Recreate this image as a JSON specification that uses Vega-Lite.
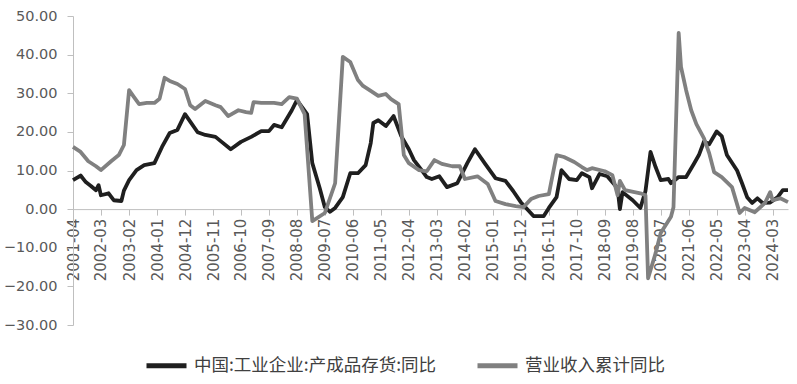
{
  "$schema": "https://vega.github.io/schema/vega-lite/v6.json",
  "width": 715,
  "height": 309,
  "autosize": {"type": "none"},
  "padding": {"left": 73, "top": 16, "right": 9, "bottom": 59},
  "background": "white",
  "config": {"view": {"stroke": null}, "font": "DejaVu Sans"},
  "data": {"values": [
    {"date": "2001-04", "series": "中国:工业企业:产成品存货:同比", "value": 7.5},
    {"date": "2001-07", "series": "中国:工业企业:产成品存货:同比", "value": 8.7},
    {"date": "2001-09", "series": "中国:工业企业:产成品存货:同比", "value": 7.0},
    {"date": "2001-11", "series": "中国:工业企业:产成品存货:同比", "value": 6.0},
    {"date": "2002-01", "series": "中国:工业企业:产成品存货:同比", "value": 4.9},
    {"date": "2002-02", "series": "中国:工业企业:产成品存货:同比", "value": 6.2},
    {"date": "2002-03", "series": "中国:工业企业:产成品存货:同比", "value": 3.6},
    {"date": "2002-06", "series": "中国:工业企业:产成品存货:同比", "value": 4.1},
    {"date": "2002-08", "series": "中国:工业企业:产成品存货:同比", "value": 2.3},
    {"date": "2002-11", "series": "中国:工业企业:产成品存货:同比", "value": 2.1},
    {"date": "2002-12", "series": "中国:工业企业:产成品存货:同比", "value": 4.8},
    {"date": "2003-02", "series": "中国:工业企业:产成品存货:同比", "value": 7.5},
    {"date": "2003-05", "series": "中国:工业企业:产成品存货:同比", "value": 10.1},
    {"date": "2003-08", "series": "中国:工业企业:产成品存货:同比", "value": 11.4},
    {"date": "2003-12", "series": "中国:工业企业:产成品存货:同比", "value": 11.9},
    {"date": "2004-03", "series": "中国:工业企业:产成品存货:同比", "value": 16.1},
    {"date": "2004-06", "series": "中国:工业企业:产成品存货:同比", "value": 19.7},
    {"date": "2004-09", "series": "中国:工业企业:产成品存货:同比", "value": 20.5},
    {"date": "2004-12", "series": "中国:工业企业:产成品存货:同比", "value": 24.6},
    {"date": "2005-05", "series": "中国:工业企业:产成品存货:同比", "value": 19.9},
    {"date": "2005-08", "series": "中国:工业企业:产成品存货:同比", "value": 19.2},
    {"date": "2005-12", "series": "中国:工业企业:产成品存货:同比", "value": 18.7},
    {"date": "2006-02", "series": "中国:工业企业:产成品存货:同比", "value": 17.6},
    {"date": "2006-06", "series": "中国:工业企业:产成品存货:同比", "value": 15.5},
    {"date": "2006-10", "series": "中国:工业企业:产成品存货:同比", "value": 17.4},
    {"date": "2007-02", "series": "中国:工业企业:产成品存货:同比", "value": 18.7},
    {"date": "2007-06", "series": "中国:工业企业:产成品存货:同比", "value": 20.2},
    {"date": "2007-09", "series": "中国:工业企业:产成品存货:同比", "value": 20.2},
    {"date": "2007-11", "series": "中国:工业企业:产成品存货:同比", "value": 21.8},
    {"date": "2008-02", "series": "中国:工业企业:产成品存货:同比", "value": 21.2},
    {"date": "2008-06", "series": "中国:工业企业:产成品存货:同比", "value": 25.6},
    {"date": "2008-08", "series": "中国:工业企业:产成品存货:同比", "value": 28.2},
    {"date": "2008-12", "series": "中国:工业企业:产成品存货:同比", "value": 24.6},
    {"date": "2009-02", "series": "中国:工业企业:产成品存货:同比", "value": 11.9},
    {"date": "2009-05", "series": "中国:工业企业:产成品存货:同比", "value": 5.4},
    {"date": "2009-07", "series": "中国:工业企业:产成品存货:同比", "value": 0.5},
    {"date": "2009-09", "series": "中国:工业企业:产成品存货:同比", "value": -0.7},
    {"date": "2009-11", "series": "中国:工业企业:产成品存货:同比", "value": 0.3},
    {"date": "2010-02", "series": "中国:工业企业:产成品存货:同比", "value": 3.1},
    {"date": "2010-05", "series": "中国:工业企业:产成品存货:同比", "value": 9.3},
    {"date": "2010-08", "series": "中国:工业企业:产成品存货:同比", "value": 9.3},
    {"date": "2010-11", "series": "中国:工业企业:产成品存货:同比", "value": 11.4},
    {"date": "2011-01", "series": "中国:工业企业:产成品存货:同比", "value": 17.1},
    {"date": "2011-02", "series": "中国:工业企业:产成品存货:同比", "value": 22.3},
    {"date": "2011-04", "series": "中国:工业企业:产成品存货:同比", "value": 23.0},
    {"date": "2011-07", "series": "中国:工业企业:产成品存货:同比", "value": 21.5},
    {"date": "2011-10", "series": "中国:工业企业:产成品存货:同比", "value": 24.1},
    {"date": "2012-01", "series": "中国:工业企业:产成品存货:同比", "value": 18.9},
    {"date": "2012-04", "series": "中国:工业企业:产成品存货:同比", "value": 15.5},
    {"date": "2012-06", "series": "中国:工业企业:产成品存货:同比", "value": 12.7},
    {"date": "2012-09", "series": "中国:工业企业:产成品存货:同比", "value": 10.1},
    {"date": "2012-11", "series": "中国:工业企业:产成品存货:同比", "value": 8.3},
    {"date": "2013-01", "series": "中国:工业企业:产成品存货:同比", "value": 7.8},
    {"date": "2013-04", "series": "中国:工业企业:产成品存货:同比", "value": 8.5},
    {"date": "2013-07", "series": "中国:工业企业:产成品存货:同比", "value": 5.7},
    {"date": "2013-11", "series": "中国:工业企业:产成品存货:同比", "value": 6.7},
    {"date": "2014-03", "series": "中国:工业企业:产成品存货:同比", "value": 11.9},
    {"date": "2014-06", "series": "中国:工业企业:产成品存货:同比", "value": 15.5},
    {"date": "2014-10", "series": "中国:工业企业:产成品存货:同比", "value": 11.7},
    {"date": "2015-02", "series": "中国:工业企业:产成品存货:同比", "value": 8.0},
    {"date": "2015-06", "series": "中国:工业企业:产成品存货:同比", "value": 7.3},
    {"date": "2015-09", "series": "中国:工业企业:产成品存货:同比", "value": 4.7},
    {"date": "2015-12", "series": "中国:工业企业:产成品存货:同比", "value": 1.8},
    {"date": "2016-05", "series": "中国:工业企业:产成品存货:同比", "value": -1.8},
    {"date": "2016-09", "series": "中国:工业企业:产成品存货:同比", "value": -1.8},
    {"date": "2016-11", "series": "中国:工业企业:产成品存货:同比", "value": 0.3},
    {"date": "2017-02", "series": "中国:工业企业:产成品存货:同比", "value": 3.1},
    {"date": "2017-04", "series": "中国:工业企业:产成品存货:同比", "value": 10.1},
    {"date": "2017-07", "series": "中国:工业企业:产成品存货:同比", "value": 7.8},
    {"date": "2017-10", "series": "中国:工业企业:产成品存货:同比", "value": 7.5},
    {"date": "2017-12", "series": "中国:工业企业:产成品存货:同比", "value": 9.3},
    {"date": "2018-03", "series": "中国:工业企业:产成品存货:同比", "value": 8.3},
    {"date": "2018-04", "series": "中国:工业企业:产成品存货:同比", "value": 5.4},
    {"date": "2018-07", "series": "中国:工业企业:产成品存货:同比", "value": 9.1},
    {"date": "2018-10", "series": "中国:工业企业:产成品存货:同比", "value": 8.5},
    {"date": "2019-02", "series": "中国:工业企业:产成品存货:同比", "value": 5.4},
    {"date": "2019-03", "series": "中国:工业企业:产成品存货:同比", "value": 0.0},
    {"date": "2019-04", "series": "中国:工业企业:产成品存货:同比", "value": 4.4},
    {"date": "2019-08", "series": "中国:工业企业:产成品存货:同比", "value": 2.3},
    {"date": "2019-11", "series": "中国:工业企业:产成品存货:同比", "value": 0.3},
    {"date": "2020-01", "series": "中国:工业企业:产成品存货:同比", "value": 4.7},
    {"date": "2020-03", "series": "中国:工业企业:产成品存货:同比", "value": 14.8},
    {"date": "2020-05", "series": "中国:工业企业:产成品存货:同比", "value": 10.9},
    {"date": "2020-07", "series": "中国:工业企业:产成品存货:同比", "value": 7.5},
    {"date": "2020-10", "series": "中国:工业企业:产成品存货:同比", "value": 7.8},
    {"date": "2020-11", "series": "中国:工业企业:产成品存货:同比", "value": 6.7},
    {"date": "2021-02", "series": "中国:工业企业:产成品存货:同比", "value": 8.3},
    {"date": "2021-05", "series": "中国:工业企业:产成品存货:同比", "value": 8.3},
    {"date": "2021-08", "series": "中国:工业企业:产成品存货:同比", "value": 11.7},
    {"date": "2021-10", "series": "中国:工业企业:产成品存货:同比", "value": 14.0},
    {"date": "2021-12", "series": "中国:工业企业:产成品存货:同比", "value": 17.5},
    {"date": "2022-02", "series": "中国:工业企业:产成品存货:同比", "value": 16.8},
    {"date": "2022-05", "series": "中国:工业企业:产成品存货:同比", "value": 20.1},
    {"date": "2022-07", "series": "中国:工业企业:产成品存货:同比", "value": 18.9},
    {"date": "2022-09", "series": "中国:工业企业:产成品存货:同比", "value": 14.0},
    {"date": "2022-11", "series": "中国:工业企业:产成品存货:同比", "value": 12.0},
    {"date": "2023-01", "series": "中国:工业企业:产成品存货:同比", "value": 10.0},
    {"date": "2023-03", "series": "中国:工业企业:产成品存货:同比", "value": 6.7},
    {"date": "2023-05", "series": "中国:工业企业:产成品存货:同比", "value": 3.1},
    {"date": "2023-07", "series": "中国:工业企业:产成品存货:同比", "value": 1.6},
    {"date": "2023-09", "series": "中国:工业企业:产成品存货:同比", "value": 2.8},
    {"date": "2023-11", "series": "中国:工业企业:产成品存货:同比", "value": 1.6},
    {"date": "2024-02", "series": "中国:工业企业:产成品存货:同比", "value": 1.7},
    {"date": "2024-05", "series": "中国:工业企业:产成品存货:同比", "value": 3.1},
    {"date": "2024-07", "series": "中国:工业企业:产成品存货:同比", "value": 4.9},
    {"date": "2024-09", "series": "中国:工业企业:产成品存货:同比", "value": 4.9},
    {"date": "2001-04", "series": "营业收入累计同比", "value": 16.1},
    {"date": "2001-07", "series": "营业收入累计同比", "value": 14.8},
    {"date": "2001-10", "series": "营业收入累计同比", "value": 12.4},
    {"date": "2002-01", "series": "营业收入累计同比", "value": 11.1},
    {"date": "2002-03", "series": "营业收入累计同比", "value": 10.1},
    {"date": "2002-07", "series": "营业收入累计同比", "value": 12.4},
    {"date": "2002-10", "series": "营业收入累计同比", "value": 14.0},
    {"date": "2002-12", "series": "营业收入累计同比", "value": 16.6},
    {"date": "2003-02", "series": "营业收入累计同比", "value": 30.8},
    {"date": "2003-04", "series": "营业收入累计同比", "value": 29.0},
    {"date": "2003-06", "series": "营业收入累计同比", "value": 27.2},
    {"date": "2003-09", "series": "营业收入累计同比", "value": 27.5},
    {"date": "2003-12", "series": "营业收入累计同比", "value": 27.5},
    {"date": "2004-02", "series": "营业收入累计同比", "value": 28.6},
    {"date": "2004-04", "series": "营业收入累计同比", "value": 34.0},
    {"date": "2004-06", "series": "营业收入累计同比", "value": 33.2},
    {"date": "2004-09", "series": "营业收入累计同比", "value": 32.4},
    {"date": "2004-12", "series": "营业收入累计同比", "value": 31.1},
    {"date": "2005-02", "series": "营业收入累计同比", "value": 26.9},
    {"date": "2005-04", "series": "营业收入累计同比", "value": 25.9},
    {"date": "2005-08", "series": "营业收入累计同比", "value": 28.0},
    {"date": "2005-12", "series": "营业收入累计同比", "value": 26.9},
    {"date": "2006-02", "series": "营业收入累计同比", "value": 26.4},
    {"date": "2006-05", "series": "营业收入累计同比", "value": 24.1},
    {"date": "2006-09", "series": "营业收入累计同比", "value": 25.6},
    {"date": "2006-12", "series": "营业收入累计同比", "value": 25.1},
    {"date": "2007-02", "series": "营业收入累计同比", "value": 24.9},
    {"date": "2007-03", "series": "营业收入累计同比", "value": 27.7},
    {"date": "2007-06", "series": "营业收入累计同比", "value": 27.5},
    {"date": "2007-11", "series": "营业收入累计同比", "value": 27.5},
    {"date": "2008-02", "series": "营业收入累计同比", "value": 27.2},
    {"date": "2008-05", "series": "营业收入累计同比", "value": 29.0},
    {"date": "2008-08", "series": "营业收入累计同比", "value": 28.6},
    {"date": "2008-11", "series": "营业收入累计同比", "value": 24.6},
    {"date": "2009-02", "series": "营业收入累计同比", "value": -3.1},
    {"date": "2009-07", "series": "营业收入累计同比", "value": -1.0},
    {"date": "2009-11", "series": "营业收入累计同比", "value": 6.7},
    {"date": "2010-02", "series": "营业收入累计同比", "value": 39.4},
    {"date": "2010-05", "series": "营业收入累计同比", "value": 38.1},
    {"date": "2010-08", "series": "营业收入累计同比", "value": 33.4},
    {"date": "2010-10", "series": "营业收入累计同比", "value": 31.9},
    {"date": "2011-01", "series": "营业收入累计同比", "value": 30.6},
    {"date": "2011-04", "series": "营业收入累计同比", "value": 29.3},
    {"date": "2011-07", "series": "营业收入累计同比", "value": 29.8},
    {"date": "2011-09", "series": "营业收入累计同比", "value": 28.5},
    {"date": "2011-12", "series": "营业收入累计同比", "value": 27.2},
    {"date": "2012-02", "series": "营业收入累计同比", "value": 14.0},
    {"date": "2012-04", "series": "营业收入累计同比", "value": 11.9},
    {"date": "2012-08", "series": "营业收入累计同比", "value": 10.1},
    {"date": "2012-11", "series": "营业收入累计同比", "value": 9.8},
    {"date": "2013-02", "series": "营业收入累计同比", "value": 12.7},
    {"date": "2013-05", "series": "营业收入累计同比", "value": 11.7},
    {"date": "2013-09", "series": "营业收入累计同比", "value": 11.1},
    {"date": "2013-12", "series": "营业收入累计同比", "value": 11.1},
    {"date": "2014-02", "series": "营业收入累计同比", "value": 7.8},
    {"date": "2014-07", "series": "营业收入累计同比", "value": 8.5},
    {"date": "2014-11", "series": "营业收入累计同比", "value": 6.5},
    {"date": "2015-02", "series": "营业收入累计同比", "value": 2.1},
    {"date": "2015-06", "series": "营业收入累计同比", "value": 1.3},
    {"date": "2015-10", "series": "营业收入累计同比", "value": 0.8},
    {"date": "2016-01", "series": "营业收入累计同比", "value": 0.5},
    {"date": "2016-04", "series": "营业收入累计同比", "value": 2.6},
    {"date": "2016-07", "series": "营业收入累计同比", "value": 3.4},
    {"date": "2016-11", "series": "营业收入累计同比", "value": 3.9},
    {"date": "2017-02", "series": "营业收入累计同比", "value": 14.0},
    {"date": "2017-05", "series": "营业收入累计同比", "value": 13.5},
    {"date": "2017-09", "series": "营业收入累计同比", "value": 12.2},
    {"date": "2017-12", "series": "营业收入累计同比", "value": 10.9},
    {"date": "2018-02", "series": "营业收入累计同比", "value": 10.1},
    {"date": "2018-04", "series": "营业收入累计同比", "value": 10.6},
    {"date": "2018-09", "series": "营业收入累计同比", "value": 9.8},
    {"date": "2018-12", "series": "营业收入累计同比", "value": 8.8},
    {"date": "2019-02", "series": "营业收入累计同比", "value": 3.6},
    {"date": "2019-03", "series": "营业收入累计同比", "value": 7.3},
    {"date": "2019-05", "series": "营业收入累计同比", "value": 4.9},
    {"date": "2019-11", "series": "营业收入累计同比", "value": 4.1},
    {"date": "2020-01", "series": "营业收入累计同比", "value": 3.6},
    {"date": "2020-02", "series": "营业收入累计同比", "value": -17.9},
    {"date": "2020-05", "series": "营业收入累计同比", "value": -11.4},
    {"date": "2020-07", "series": "营业收入累计同比", "value": -6.2},
    {"date": "2020-11", "series": "营业收入累计同比", "value": -2.0},
    {"date": "2020-12", "series": "营业收入累计同比", "value": 0.5},
    {"date": "2021-02", "series": "营业收入累计同比", "value": 45.6},
    {"date": "2021-03", "series": "营业收入累计同比", "value": 36.8},
    {"date": "2021-05", "series": "营业收入累计同比", "value": 30.8},
    {"date": "2021-07", "series": "营业收入累计同比", "value": 25.6},
    {"date": "2021-09", "series": "营业收入累计同比", "value": 22.0},
    {"date": "2021-12", "series": "营业收入累计同比", "value": 18.3},
    {"date": "2022-02", "series": "营业收入累计同比", "value": 14.5},
    {"date": "2022-04", "series": "营业收入累计同比", "value": 9.6},
    {"date": "2022-07", "series": "营业收入累计同比", "value": 8.3},
    {"date": "2022-11", "series": "营业收入累计同比", "value": 5.7},
    {"date": "2023-02", "series": "营业收入累计同比", "value": -1.0},
    {"date": "2023-04", "series": "营业收入累计同比", "value": 0.3},
    {"date": "2023-08", "series": "营业收入累计同比", "value": -0.8},
    {"date": "2023-12", "series": "营业收入累计同比", "value": 1.6},
    {"date": "2024-02", "series": "营业收入累计同比", "value": 4.4},
    {"date": "2024-03", "series": "营业收入累计同比", "value": 2.3},
    {"date": "2024-06", "series": "营业收入累计同比", "value": 2.8},
    {"date": "2024-09", "series": "营业收入累计同比", "value": 1.8}
  ]},
  "mark": {"type": "line", "strokeWidth": 3.8, "strokeJoin": "round"},
  "encoding": {
    "x": {
      "field": "date",
      "type": "temporal",
      "scale": {"type": "utc", "domain": [{"year": 2001, "month": 4, "utc": true}, {"year": 2024, "month": 9, "utc": true}]},
      "axis": {
        "title": null,
        "values": [
          {"year": 2001, "month": 4, "utc": true}, {"year": 2002, "month": 3, "utc": true},
          {"year": 2003, "month": 2, "utc": true}, {"year": 2004, "month": 1, "utc": true},
          {"year": 2004, "month": 12, "utc": true}, {"year": 2005, "month": 11, "utc": true},
          {"year": 2006, "month": 10, "utc": true}, {"year": 2007, "month": 9, "utc": true},
          {"year": 2008, "month": 8, "utc": true}, {"year": 2009, "month": 7, "utc": true},
          {"year": 2010, "month": 6, "utc": true}, {"year": 2011, "month": 5, "utc": true},
          {"year": 2012, "month": 4, "utc": true}, {"year": 2013, "month": 3, "utc": true},
          {"year": 2014, "month": 2, "utc": true}, {"year": 2015, "month": 1, "utc": true},
          {"year": 2015, "month": 12, "utc": true}, {"year": 2016, "month": 11, "utc": true},
          {"year": 2017, "month": 10, "utc": true}, {"year": 2018, "month": 9, "utc": true},
          {"year": 2019, "month": 8, "utc": true}, {"year": 2020, "month": 7, "utc": true},
          {"year": 2021, "month": 6, "utc": true}, {"year": 2022, "month": 5, "utc": true},
          {"year": 2023, "month": 4, "utc": true}, {"year": 2024, "month": 3, "utc": true}
        ],
        "format": "%Y-%m",
        "labelAngle": -90,
        "labelAlign": "right",
        "labelBaseline": "middle",
        "offset": -115.9,
        "grid": false,
        "domainColor": "#bfbfbf",
        "tickColor": "#bfbfbf",
        "tickSize": 6,
        "labelFont": "DejaVu Sans",
        "labelFontSize": 15,
        "labelColor": "#595959",
        "labelPadding": 3,
        "labelOverlap": false,
        "labelFlush": false
      }
    },
    "y": {
      "field": "value",
      "type": "quantitative",
      "scale": {"domain": [-30, 50], "nice": false, "zero": false},
      "axis": {
        "title": null,
        "values": [-30, -20, -10, 0, 10, 20, 30, 40, 50],
        "format": ".2f",
        "grid": false,
        "domainColor": "#bfbfbf",
        "tickColor": "#bfbfbf",
        "tickSize": 6,
        "labelFont": "DejaVu Sans",
        "labelFontSize": 14.5,
        "labelColor": "#595959",
        "labelPadding": 10
      }
    },
    "color": {
      "field": "series",
      "type": "nominal",
      "sort": ["中国:工业企业:产成品存货:同比", "营业收入累计同比"],
      "scale": {"domain": ["中国:工业企业:产成品存货:同比", "营业收入累计同比"], "range": ["#1f1f1f", "#808080"]},
      "legend": {
        "title": null,
        "orient": "none",
        "legendX": 71,
        "legendY": 327,
        "direction": "horizontal",
        "symbolType": "stroke",
        "symbolSize": 1600,
        "symbolStrokeWidth": 5,
        "labelFont": "Noto Sans CJK SC",
        "labelFontSize": 17.5,
        "labelColor": "#404040",
        "labelLimit": 400,
        "labelOffset": 5,
        "columnPadding": 30
      }
    }
  }
}
